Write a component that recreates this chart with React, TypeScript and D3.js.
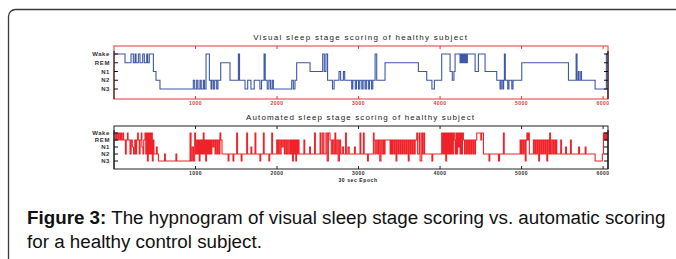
import React from "react";
import { scaleLinear, scalePoint, line, curveStepAfter } from "d3";

const width = 676;
const height = 259;

const stages = ["Wake", "REM", "N1", "N2", "N3"];
const xTicks = [1000, 2000, 3000, 4000, 5000, 6000];

const topTitle = "Visual sleep stage scoring of healthy subject";
const bottomTitle = "Automated sleep stage scoring of healthy subject";
const xLabel = "30 sec Epoch";

// [epoch, stage index] change points
const visual: [number, number][] = [
  [0, 0], [135, 1], [209, 0], [237, 1], [258, 0], [270, 1], [299, 0], [319, 1],
  [352, 0], [372, 1], [401, 0], [413, 1], [433, 0], [483, 2], [515, 3], [564, 4],
  [973, 3], [990, 4], [1014, 3], [1030, 4], [1055, 3], [1070, 4], [1096, 3], [1110, 4],
  [1129, 0], [1170, 3], [1190, 4], [1200, 3], [1219, 4], [1235, 3], [1260, 4], [1275, 3],
  [1309, 1], [1423, 3], [1526, 0], [1540, 3], [1607, 4], [1640, 3], [1680, 4], [1720, 3],
  [1790, 4], [1810, 3], [1841, 0], [1855, 3], [1880, 4], [1900, 3], [1920, 4], [1940, 3],
  [1955, 4], [2180, 3], [2200, 4], [2220, 3], [2241, 1], [2405, 2], [2560, 0], [2580, 2],
  [2600, 0], [2620, 3], [2680, 4], [2700, 3], [2760, 2], [2780, 3], [2814, 2], [2830, 3],
  [2916, 4], [2930, 3], [2960, 4], [2975, 3], [3000, 4], [3015, 3], [3040, 4], [3055, 3],
  [3080, 4], [3095, 3], [3120, 4], [3135, 3], [3160, 4], [3175, 3], [3203, 0], [3223, 3],
  [3325, 1], [3734, 2], [3836, 3], [3900, 4], [3930, 3], [4020, 0], [4123, 2], [4150, 3],
  [4170, 2], [4184, 0], [4245, 1], [4255, 0], [4265, 1], [4275, 0], [4285, 1], [4295, 0],
  [4305, 1], [4315, 0], [4325, 1], [4335, 0], [4348, 0], [4430, 2], [4470, 0], [4552, 2],
  [4695, 3], [4736, 4], [4750, 3], [4770, 4], [4780, 3], [4789, 0], [4800, 3], [4830, 4],
  [4845, 3], [4880, 4], [4895, 3], [5002, 1], [5575, 3], [5669, 0], [5680, 3], [5697, 2],
  [5705, 3], [5726, 2], [5735, 3], [5902, 4], [6040, 0], [6050, 0],
];

const automated: [number, number][] = [
  [0, 0], [20, 1], [30, 0], [45, 1], [55, 0], [70, 1], [80, 0], [94, 1], [110, 0], [118, 1],
  [140, 3], [150, 1], [165, 0], [172, 1], [196, 3], [210, 1], [225, 2], [240, 3], [255, 1],
  [265, 3], [278, 1], [290, 0], [298, 1], [310, 3], [320, 1], [335, 0], [342, 2], [355, 3],
  [365, 1], [380, 0], [390, 3], [400, 0], [410, 4], [420, 0], [430, 3], [440, 0], [450, 3],
  [460, 0], [470, 4], [480, 1], [490, 3], [520, 2], [530, 3], [545, 4], [564, 4], [620, 3],
  [630, 4], [760, 3], [770, 4], [933, 0], [945, 4], [960, 2], [975, 4], [990, 0], [1000, 3],
  [1014, 1], [1025, 3], [1035, 1], [1045, 4], [1055, 1], [1065, 3], [1075, 1], [1085, 3],
  [1095, 0], [1105, 3], [1115, 1], [1125, 4], [1135, 1], [1145, 3], [1155, 1], [1165, 3],
  [1178, 1], [1190, 3], [1200, 1], [1215, 2], [1225, 1], [1240, 3], [1250, 1], [1265, 3],
  [1275, 1], [1290, 3], [1300, 0], [1310, 1], [1325, 3], [1341, 3], [1400, 4], [1410, 3],
  [1460, 4], [1470, 3], [1505, 0], [1515, 3], [1560, 4], [1570, 3], [1628, 0], [1638, 3],
  [1680, 2], [1690, 3], [1730, 0], [1740, 3], [1790, 4], [1800, 3], [1832, 0], [1842, 3],
  [1900, 4], [1910, 3], [1935, 0], [1945, 3], [1996, 1], [2010, 3], [2020, 1], [2035, 3],
  [2050, 1], [2060, 2], [2075, 1], [2090, 3], [2100, 1], [2115, 3], [2130, 1], [2145, 3],
  [2160, 1], [2170, 3], [2180, 1], [2190, 4], [2200, 1], [2210, 3], [2220, 1], [2230, 4],
  [2240, 1], [2250, 3], [2260, 1], [2270, 3], [2330, 1], [2340, 3], [2400, 2], [2410, 3],
  [2460, 0], [2470, 3], [2528, 0], [2540, 3], [2560, 0], [2575, 3], [2600, 0], [2615, 4],
  [2630, 0], [2650, 1], [2665, 3], [2680, 1], [2695, 3], [2710, 0], [2720, 3], [2735, 1],
  [2750, 4], [2765, 1], [2780, 3], [2800, 2], [2815, 3], [2840, 0], [2850, 3], [2870, 2],
  [2885, 3], [2950, 2], [2960, 3], [3018, 0], [3028, 3], [3059, 0], [3069, 3], [3110, 4],
  [3120, 3], [3182, 0], [3190, 1], [3200, 3], [3215, 1], [3230, 3], [3245, 1], [3260, 4],
  [3275, 1], [3290, 3], [3305, 1], [3315, 3], [3325, 1], [3387, 3], [3397, 1], [3410, 3],
  [3420, 1], [3435, 3], [3445, 1], [3460, 4], [3470, 1], [3485, 3], [3495, 1], [3510, 3],
  [3520, 1], [3535, 3], [3545, 1], [3560, 3], [3570, 1], [3585, 3], [3595, 1], [3610, 4],
  [3620, 1], [3635, 3], [3645, 1], [3660, 3], [3670, 1], [3685, 3], [3695, 1], [3714, 0],
  [3725, 3], [3745, 0], [3755, 4], [3775, 0], [3785, 3], [3800, 0], [3810, 3], [3900, 4],
  [3910, 3], [4020, 0], [4030, 3], [4040, 0], [4050, 3], [4060, 0], [4070, 4], [4080, 0],
  [4090, 3], [4100, 0], [4110, 3], [4120, 0], [4130, 3], [4140, 0], [4150, 3], [4163, 0],
  [4175, 1], [4185, 3], [4195, 0], [4205, 3], [4215, 0], [4225, 2], [4235, 0], [4245, 3],
  [4255, 0], [4265, 3], [4275, 0], [4286, 1], [4300, 3], [4310, 1], [4325, 3], [4335, 1],
  [4350, 3], [4360, 1], [4375, 3], [4385, 1], [4400, 3], [4410, 1], [4425, 3], [4435, 1],
  [4450, 0], [4500, 1], [4510, 0], [4532, 3], [4600, 4], [4610, 3], [4716, 4], [4730, 3],
  [4777, 0], [4787, 3], [4982, 1], [4995, 3], [5005, 1], [5020, 3], [5030, 1], [5045, 4],
  [5055, 1], [5065, 0], [5075, 1], [5084, 0], [5095, 3], [5145, 1], [5160, 3], [5170, 1],
  [5185, 3], [5195, 1], [5210, 4], [5220, 1], [5235, 3], [5245, 1], [5260, 3], [5270, 1],
  [5285, 3], [5295, 1], [5310, 4], [5320, 1], [5335, 3], [5345, 0], [5355, 3], [5370, 1],
  [5385, 3], [5395, 1], [5410, 3], [5420, 1], [5432, 3], [5480, 1], [5490, 3], [5540, 2],
  [5550, 3], [5600, 1], [5610, 3], [5700, 2], [5710, 3], [5780, 2], [5790, 3], [5902, 4],
  [5990, 3], [6004, 0], [6015, 1], [6025, 0], [6035, 1], [6045, 0], [6050, 0],
];

const Hypnogram = ({
  data, top, bottom, lo, hi, frameColor, lineColor, tickColor, title, titleY,
}: any) => {
  const x = scaleLinear().domain([0, 6060]).range([114, 608]);
  const y = scalePoint().domain(stages).range([lo, hi]);
  const path = line<[number, number]>()
    .x((d) => x(d[0]))
    .y((d) => y(stages[d[1]]) as number)
    .curve(curveStepAfter);
  const [x0, x1] = x.range();
  return (
    <g>
      <text x={360} y={titleY} fontSize={8} textAnchor="middle" fill="#222"
        fontFamily="Liberation Sans, Arial, sans-serif" textLength={title.length * 4.75}
        lengthAdjust="spacing">{title}</text>
      <path d={path(data) as string} fill="none" stroke={lineColor} strokeWidth={1.1} />
      <rect x={x0} y={top} width={x1 - x0} height={bottom - top} fill="none" stroke={frameColor} strokeWidth={1} />
      <line x1={x0} x2={x0} y1={lo - 3} y2={bottom} stroke="#111" strokeWidth={1} />
      <line x1={x1} x2={x1} y1={lo - 3} y2={bottom} stroke="#111" strokeWidth={1.2} />
      {stages.map((s) => (
        <g key={s}>
          <line x1={x0} x2={x0 + 4} y1={y(s)} y2={y(s)} stroke="#111" />
          <line x1={x1} x2={x1 - 4} y1={y(s)} y2={y(s)} stroke="#111" />
          <text x={x0 - 4} y={(y(s) as number) + 2} fontSize={6} fontWeight="bold" textAnchor="end"
            fill="#333" letterSpacing={0.6} fontFamily="Liberation Sans, Arial, sans-serif">{s}</text>
        </g>
      ))}
      {xTicks.map((t) => (
        <g key={t}>
          <line x1={x(t)} x2={x(t)} y1={top} y2={top + 3} stroke={frameColor} />
          <line x1={x(t)} x2={x(t)} y1={bottom} y2={bottom - 3} stroke={frameColor} />
          <text x={x(t)} y={bottom + 6} fontSize={5} fontWeight="bold" textAnchor="middle"
            fill={tickColor} letterSpacing={0.5} fontFamily="Liberation Sans, Arial, sans-serif">{t}</text>
        </g>
      ))}
    </g>
  );
};

export default function App() {
  return (
    <svg width={width} height={height} style={{ position: "absolute", left: 0, top: 0 }}>
      <rect width={width} height={height} fill="#fff" />
      <rect x={8.5} y={9.5} width={700} height={300} rx={7} fill="none" stroke="#3a3a3a" strokeWidth={1.3} />
      <Hypnogram data={visual} top={46} bottom={99} lo={54} hi={89} frameColor="#e8353b"
        lineColor="#3c58a6" tickColor="#d04045" title={topTitle} titleY={40} />
      <Hypnogram data={automated} top={126} bottom={169} lo={133} hi={161} frameColor="#222"
        lineColor="#ee2229" tickColor="#333" title={bottomTitle} titleY={120} />
      <text x={358} y={182} fontSize={5} fontWeight="bold" textAnchor="middle" fill="#222"
        letterSpacing={0.6} fontFamily="Liberation Sans, Arial, sans-serif">{xLabel}</text>
      <text x={27} y={224} fontSize={18.8} fill="#111" fontFamily="Liberation Sans, Arial, sans-serif">
        <tspan fontWeight="bold">Figure 3:</tspan>
        <tspan> The hypnogram of visual sleep stage scoring vs. automatic scoring</tspan>
      </text>
      <text x={27} y={248} fontSize={18.8} fill="#111" fontFamily="Liberation Sans, Arial, sans-serif">
        for a healthy control subject.
      </text>
    </svg>
  );
}
